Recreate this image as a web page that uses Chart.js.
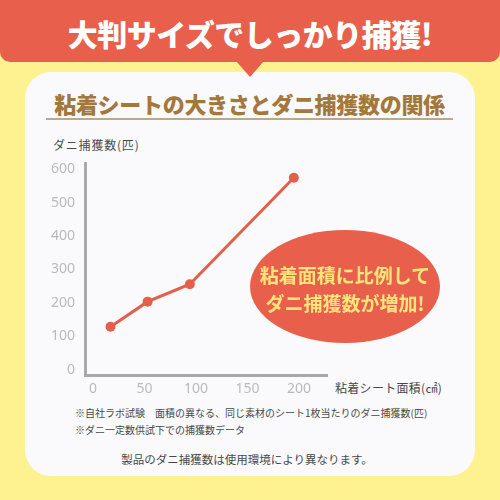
<!DOCTYPE html>
<html lang="ja">
<head>
<meta charset="utf-8">
<script src="https://cdn.jsdelivr.net/npm/chart.js@4.4.1/dist/chart.umd.min.js"></script>
<style>
  html, body { margin: 0; padding: 0; }
  body { width: 500px; height: 500px; position: relative; overflow: hidden; background: #fdf28f;
         font-family: "Noto Sans CJK JP", "Noto Sans", sans-serif; }
  .banner { position: absolute; left: 0; top: 0; width: 500px; height: 62px; background: #e8604c;
            border-radius: 0 0 10px 10px; }
  .pointer { position: absolute; left: 236px; top: 61px; width: 0; height: 0;
             border-left: 14px solid transparent; border-right: 14px solid transparent;
             border-top: 16px solid #e8604c; z-index: 3; }
  .banner h1 { margin: 0; position: absolute; left: 0; width: 500px; top: 13px; text-align: center;
               color: #fff; font-size: 30px; font-weight: 900; line-height: 40px; letter-spacing: -0.5px; }
  .card { position: absolute; left: 25px; top: 72px; width: 450px; height: 404px; background: #fafafc;
          border-radius: 26px; }
  .subtitle { position: absolute; left: 46px; width: 407px; top: 89px; height: 29px; text-align: center;
              color: #a4783c; font-size: 22px; font-weight: 900; line-height: 29px;
              border-bottom: 2px solid #b9a98a; letter-spacing: -0.3px; }
  .txt { position: absolute; white-space: nowrap; color: #484848; }
  #chart { position: absolute; left: 0; top: 0; }
  .bubble { position: absolute; left: 250px; top: 230px; width: 190px; height: 113px; border-radius: 50%;
            background: #e8604c; z-index: 4; }
  .bubble div { position: absolute; left: 0; width: 190px; text-align: center; color: #fde47a;
                font-size: 19px; font-weight: 700; line-height: 26px; }
</style>
</head>
<body>
<div class="banner"><h1>大判サイズでしっかり捕獲!</h1></div>
<div class="pointer"></div>
<div class="card"></div>
<div class="subtitle">粘着シートの大きさとダニ捕獲数の関係</div>

<div class="txt" style="left:53px; top:136px; font-size:12px; line-height:18px; letter-spacing:0.8px;">ダニ捕獲数(匹)</div>
<div class="txt" style="left:335px; top:379px; font-size:12px; line-height:18px; letter-spacing:0.3px;">粘着シート面積(㎠)</div>
<div class="txt" style="left:75px; top:405px; font-size:10px; line-height:16px;">※自社ラボ試験　面積の異なる、同じ素材のシート1枚当たりのダニ捕獲数(匹)</div>
<div class="txt" style="left:75px; top:422px; font-size:10px; line-height:16px;">※ダニ一定数供試下での捕獲数データ</div>
<div class="txt" style="left:0; width:494px; text-align:center; top:450px; font-size:11.5px; line-height:18px;">製品のダニ捕獲数は使用環境により異なります。</div>

<canvas id="chart" width="500" height="500"></canvas>

<div class="bubble">
  <div style="top:32px;">粘着面積に比例して</div>
  <div style="top:60px;">ダニ捕獲数が増加!</div>
</div>

<script>
// -------------------- DATA --------------------
const sheetAreas = [17, 53, 94, 195];     // 粘着シート面積 (㎠)
const miteCounts = [129, 204, 256, 574];  // ダニ捕獲数 (匹)
const xTickValues = [0, 50, 100, 150, 200];
const yTickValues = [0, 100, 200, 300, 400, 500, 600];

const lineColor = "#e2604b";
const axisColor = "#a9a9a9";
const tickColor = "#bababa";

// -------------------- CHART --------------------
const ctx = document.getElementById("chart").getContext("2d");
new Chart(ctx, {
  type: "line",
  data: {
    datasets: [{
      data: sheetAreas.map((a, i) => ({ x: a, y: miteCounts[i] })),
      borderColor: lineColor,
      backgroundColor: lineColor,
      borderWidth: 3,
      pointRadius: 5,
      pointBorderWidth: 0,
      fill: false,
      tension: 0
    }]
  },
  options: {
    responsive: false,
    animation: false,
    layout: { padding: { left: 0, top: 163, right: 173, bottom: 100 } },
    plugins: { legend: { display: false }, tooltip: { enabled: false } },
    scales: {
      x: {
        type: "linear",
        min: -7.8,
        max: 227.2,
        afterBuildTicks: s => { s.ticks = xTickValues.map(v => ({ value: v })); },
        afterFit: s => { s.height = 25; },
        grid: { display: false, drawTicks: false },
        border: { display: true, color: axisColor, width: 3 },
        ticks: { color: tickColor, padding: 6, font: { family: "Noto Sans", size: 14 } }
      },
      y: {
        min: -15,
        max: 618,
        afterBuildTicks: s => { s.ticks = yTickValues.map(v => ({ value: v })); },
        afterFit: s => { s.width = 85; },
        grid: { display: false, drawTicks: false },
        border: { display: true, color: axisColor, width: 3 },
        ticks: { color: tickColor, padding: 10, font: { family: "Noto Sans", size: 14 } }
      }
    }
  }
});
</script>
</body>
</html>
